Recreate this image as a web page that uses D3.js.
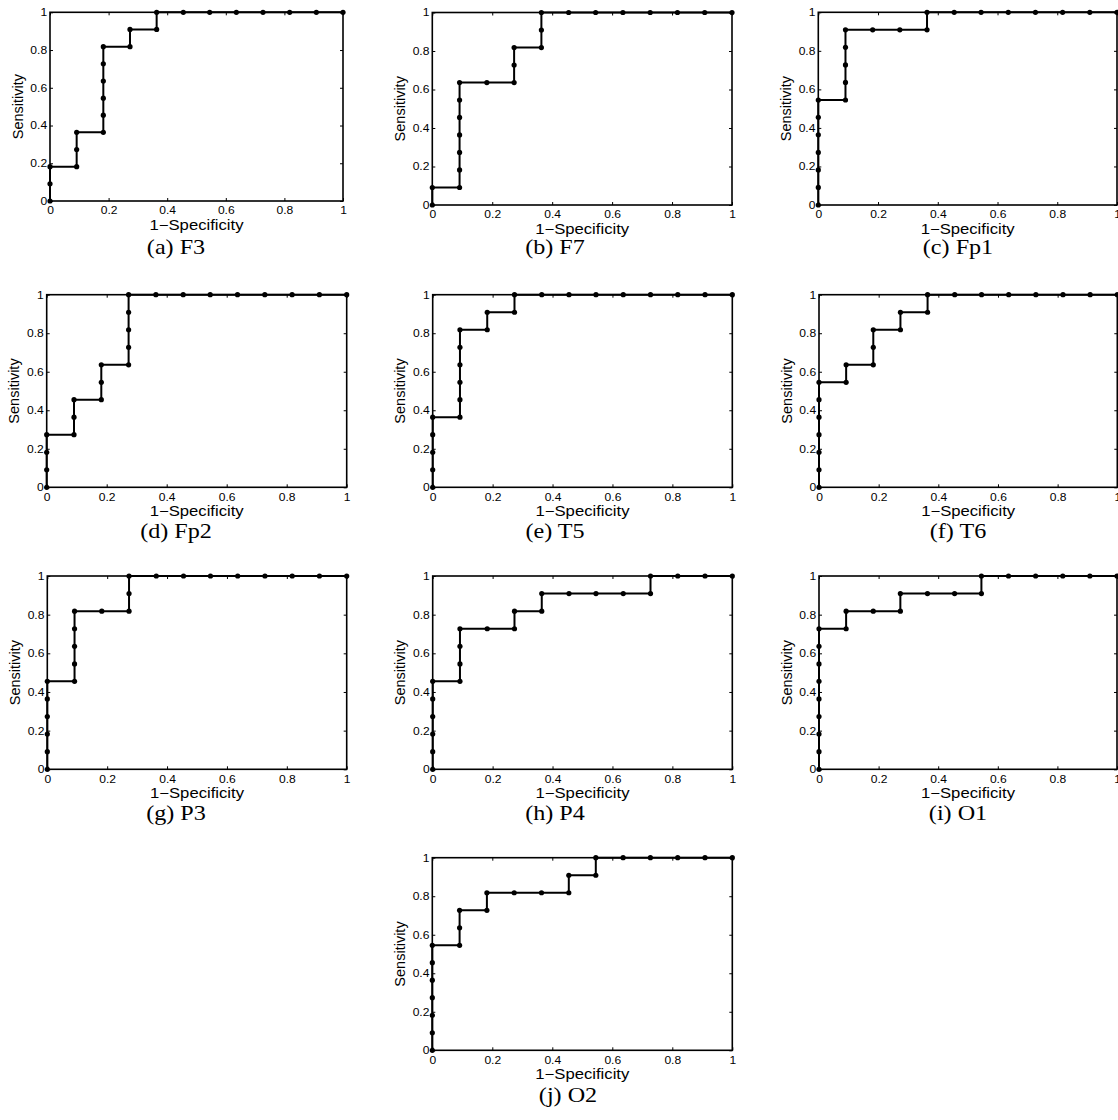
<!DOCTYPE html>
<html>
<head>
<meta charset="utf-8">
<script src="https://cdn.jsdelivr.net/npm/d3@7"></script>
<style>
  body { margin: 0; background: #fff; }
  svg { display: block; }
  .tick text { font-family: "Liberation Sans", Arial, sans-serif; font-size: 10.5px; fill: #000; }
  .lbl { font-family: "Liberation Sans", Arial, sans-serif; font-size: 14.5px; fill: #000; }
  .cap { font-family: "Liberation Serif", "Times New Roman", serif; font-size: 21px; fill: #000; }
</style>
</head>
<body>
<svg width="1118" height="1120"></svg>
<script>
// tick values shared by every panel
const xTicks = [0, 0.2, 0.4, 0.6, 0.8, 1];
const yTicks = [0, 0.2, 0.4, 0.6, 0.8, 1];

// ROC points (1-specificity, sensitivity)
const f3Fpr = [0, 0, 0, .091, .091, .091, .182, .182, .182, .182, .182, .182, .273, .273, .364, .364, .455, .545, .636, .727, .818, .909, 1];
const f3Tpr = [0, .091, .182, .182, .273, .364, .364, .455, .545, .636, .727, .818, .818, .909, .909, 1, 1, 1, 1, 1, 1, 1, 1];

const f7Fpr = [0, 0, .091, .091, .091, .091, .091, .091, .091, .182, .273, .273, .273, .364, .364, .364, .455, .545, .636, .727, .818, .909, 1];
const f7Tpr = [0, .091, .091, .182, .273, .364, .455, .545, .636, .636, .636, .727, .818, .818, .909, 1, 1, 1, 1, 1, 1, 1, 1];

const fp1Fpr = [0, 0, 0, 0, 0, 0, 0, .091, .091, .091, .091, .091, .182, .273, .364, .364, .455, .545, .636, .727, .818, .909, 1];
const fp1Tpr = [0, .091, .182, .273, .364, .455, .545, .545, .636, .727, .818, .909, .909, .909, .909, 1, 1, 1, 1, 1, 1, 1, 1];

const fp2Fpr = [0, 0, 0, 0, .091, .091, .091, .182, .182, .182, .273, .273, .273, .273, .273, .364, .455, .545, .636, .727, .818, .909, 1];
const fp2Tpr = [0, .091, .182, .273, .273, .364, .455, .455, .545, .636, .636, .727, .818, .909, 1, 1, 1, 1, 1, 1, 1, 1, 1];

const t5Fpr = [0, 0, 0, 0, 0, .091, .091, .091, .091, .091, .091, .182, .182, .273, .273, .364, .455, .545, .636, .727, .818, .909, 1];
const t5Tpr = [0, .091, .182, .273, .364, .364, .455, .545, .636, .727, .818, .818, .909, .909, 1, 1, 1, 1, 1, 1, 1, 1, 1];

const t6Fpr = [0, 0, 0, 0, 0, 0, 0, .091, .091, .182, .182, .182, .273, .273, .364, .364, .455, .545, .636, .727, .818, .909, 1];
const t6Tpr = [0, .091, .182, .273, .364, .455, .545, .545, .636, .636, .727, .818, .818, .909, .909, 1, 1, 1, 1, 1, 1, 1, 1];

const p3Fpr = [0, 0, 0, 0, 0, 0, .091, .091, .091, .091, .091, .182, .273, .273, .273, .364, .455, .545, .636, .727, .818, .909, 1];
const p3Tpr = [0, .091, .182, .273, .364, .455, .455, .545, .636, .727, .818, .818, .818, .909, 1, 1, 1, 1, 1, 1, 1, 1, 1];

const p4Fpr = [0, 0, 0, 0, 0, 0, .091, .091, .091, .091, .182, .273, .273, .364, .364, .455, .545, .636, .727, .727, .818, .909, 1];
const p4Tpr = [0, .091, .182, .273, .364, .455, .455, .545, .636, .727, .727, .727, .818, .818, .909, .909, .909, .909, .909, 1, 1, 1, 1];

const o1Fpr = [0, 0, 0, 0, 0, 0, 0, 0, 0, .091, .091, .182, .273, .273, .364, .455, .545, .545, .636, .727, .818, .909, 1];
const o1Tpr = [0, .091, .182, .273, .364, .455, .545, .636, .727, .727, .818, .818, .818, .909, .909, .909, .909, 1, 1, 1, 1, 1, 1];

const o2Fpr = [0, 0, 0, 0, 0, 0, 0, .091, .091, .091, .182, .182, .273, .364, .455, .455, .545, .545, .636, .727, .818, .909, 1];
const o2Tpr = [0, .091, .182, .273, .364, .455, .545, .545, .636, .727, .727, .818, .818, .818, .818, .909, .909, 1, 1, 1, 1, 1, 1];

const captions = ["(a) F3", "(b) F7", "(c) Fp1", "(d) Fp2", "(e) T5", "(f) T6", "(g) P3", "(h) P4", "(i) O1", "(j) O2"];
const fprs = [f3Fpr, f7Fpr, fp1Fpr, fp2Fpr, t5Fpr, t6Fpr, p3Fpr, p4Fpr, o1Fpr, o2Fpr];
const tprs = [f3Tpr, f7Tpr, fp1Tpr, fp2Tpr, t5Tpr, t6Tpr, p3Tpr, p4Tpr, o1Tpr, o2Tpr];

// where each axes box sits on the page, and where its caption goes
const layout = [
  { l: 50, r: 343, t: 12.3, b: 201, cx: 176, cy: 254 },
  { l: 432.3, r: 732, t: 12.5, b: 205, cx: 555, cy: 254 },
  { l: 818.3, r: 1117, t: 12.3, b: 205, cx: 958, cy: 254 },
  { l: 46.7, r: 346.7, t: 294.7, b: 487.3, cx: 176, cy: 538 },
  { l: 432.7, r: 732.3, t: 294.7, b: 487.3, cx: 555, cy: 538 },
  { l: 819, r: 1117.3, t: 294.7, b: 487.3, cx: 958, cy: 538 },
  { l: 47.3, r: 346.7, t: 576, b: 769.3, cx: 176, cy: 820 },
  { l: 432.7, r: 732.3, t: 576, b: 769.3, cx: 555, cy: 820 },
  { l: 819, r: 1117, t: 576, b: 769.3, cx: 958, cy: 820 },
  { l: 432.3, r: 732.3, t: 857.7, b: 1050.3, cx: 568, cy: 1102 }
];

// the source figures were stretched sideways, so text is a bit wide
const stretch = 1.15;

const svg = d3.select("svg");
svg.append("rect").attr("width", 1118).attr("height", 1120).attr("fill", "#fff");

const fmt = d => d3.format("~g")(d);

layout.forEach((p, k) => {
  const w = p.r - p.l;
  const h = p.b - p.t;
  const x = d3.scaleLinear().domain([0, 1]).range([0, w]);
  const y = d3.scaleLinear().domain([0, 1]).range([h, 0]);

  const g = svg.append("g").attr("transform", `translate(${p.l},${p.t})`);

  // inward ticks on all four sides, like matlab's box
  g.append("g")
    .attr("transform", `translate(0,${h})`)
    .call(d3.axisBottom(x).tickValues(xTicks).tickFormat(fmt).tickSizeInner(-3).tickSizeOuter(0).tickPadding(6));
  g.append("g")
    .call(d3.axisLeft(y).tickValues(yTicks).tickFormat(fmt).tickSizeInner(-3).tickSizeOuter(0).tickPadding(2.5));
  g.append("g")
    .call(d3.axisTop(x).tickValues(xTicks).tickFormat("").tickSizeInner(-3).tickSizeOuter(0));
  g.append("g")
    .attr("transform", `translate(${w},0)`)
    .call(d3.axisRight(y).tickValues(yTicks).tickFormat("").tickSizeInner(-3).tickSizeOuter(0));
  g.selectAll(".domain").remove();
  g.selectAll(".tick line").attr("stroke", "#000").attr("stroke-width", 1);
  g.selectAll(".tick text").attr("transform", `scale(${stretch},1)`);

  g.append("rect")
    .attr("width", w).attr("height", h)
    .attr("fill", "none").attr("stroke", "#000").attr("stroke-width", 1.6);

  const pts = fprs[k].map((v, i) => [v, tprs[k][i]]);

  g.append("path")
    .datum(pts)
    .attr("fill", "none")
    .attr("stroke", "#000")
    .attr("stroke-width", 2)
    .attr("d", d3.line().x(d => x(d[0])).y(d => y(d[1])));

  g.selectAll(".dot")
    .data(pts)
    .enter()
    .append("circle")
    .attr("class", "dot")
    .attr("cx", d => x(d[0]))
    .attr("cy", d => y(d[1]))
    .attr("r", 2.6)
    .attr("fill", "#000");

  g.append("text")
    .attr("class", "lbl")
    .attr("text-anchor", "middle")
    .attr("transform", `translate(${w / 2},${h + 28.5}) scale(${stretch},1)`)
    .text("1\u2212Specificity");
  g.append("text")
    .attr("class", "lbl")
    .attr("text-anchor", "middle")
    .attr("transform", `translate(-27.5,${h / 2}) rotate(-90)`)
    .text("Sensitivity");

  svg.append("text")
    .attr("class", "cap")
    .attr("text-anchor", "middle")
    .attr("transform", `translate(${p.cx},${p.cy}) scale(${stretch},1)`)
    .text(captions[k]);
});
</script>
</body>
</html>
